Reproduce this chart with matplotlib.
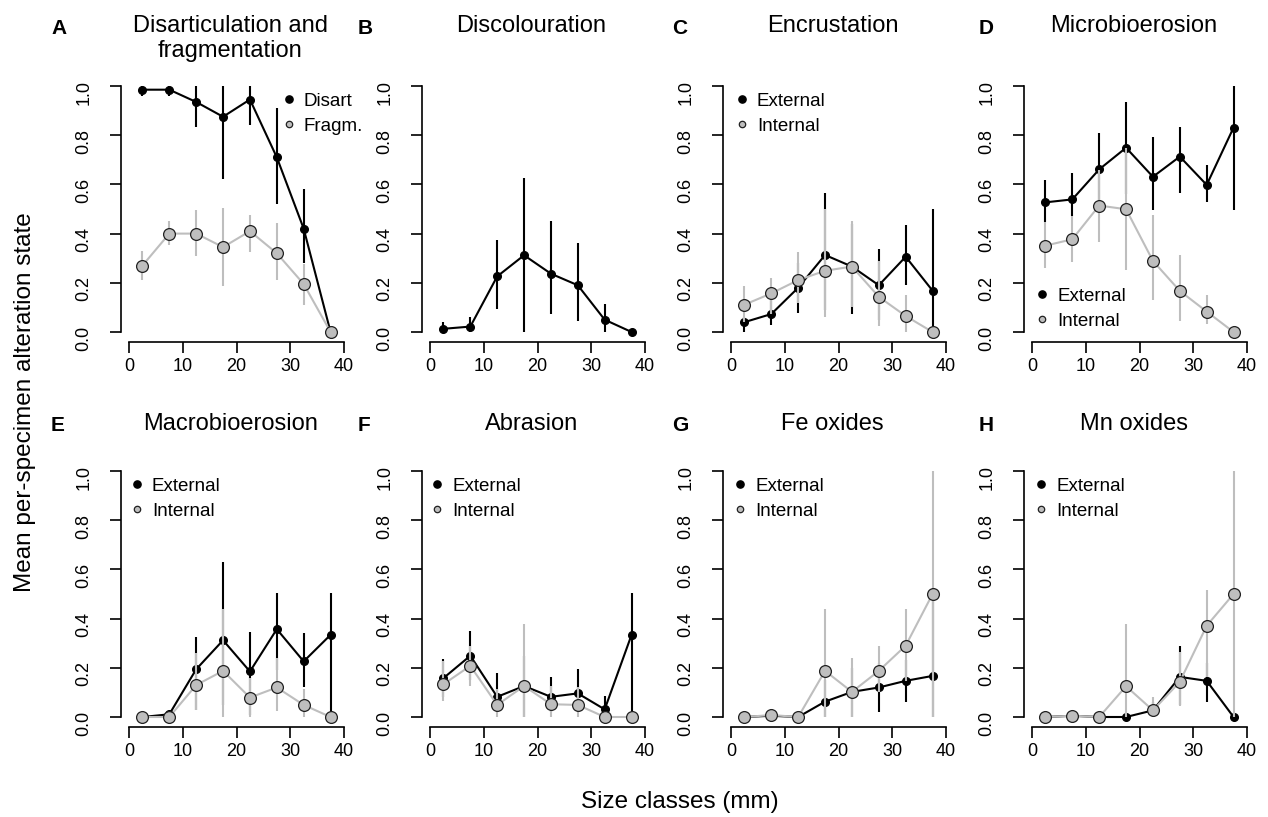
import matplotlib
matplotlib.use('Agg')
import matplotlib.pyplot as plt
from matplotlib.lines import Line2D

plt.rcParams['font.family'] = ['Liberation Sans', 'DejaVu Sans']

size_mid = [2.5, 7.5, 12.5, 17.5, 22.5, 27.5, 32.5, 37.5]
y_ticks = [0.0, 0.2, 0.4, 0.6, 0.8, 1.0]
x_ticks = [0, 10, 20, 30, 40]

# A: disarticulation (black) / fragmentation (grey)
a_ext = [0.985, 0.985, 0.935, 0.875, 0.945, 0.71, 0.42, 0.0]
a_ext_lo = [0.96, 0.96, 0.835, 0.62, 0.84, 0.52, 0.28, 0.0]
a_ext_hi = [1.0, 1.0, 1.0, 1.0, 1.0, 0.91, 0.58, 0.0]
a_int = [0.27, 0.40, 0.40, 0.345, 0.41, 0.32, 0.195, 0.0]
a_int_lo = [0.21, 0.355, 0.31, 0.185, 0.325, 0.21, 0.11, 0.0]
a_int_hi = [0.33, 0.45, 0.495, 0.505, 0.475, 0.445, 0.275, 0.0]

# B: discolouration
b_ext = [0.013, 0.022, 0.226, 0.312, 0.237, 0.19, 0.05, 0.0]
b_ext_lo = [0.0, 0.0, 0.095, 0.0, 0.075, 0.045, 0.0, 0.0]
b_ext_hi = [0.04, 0.06, 0.373, 0.627, 0.45, 0.36, 0.115, 0.0]

# C: encrustation
c_ext = [0.04, 0.073, 0.18, 0.313, 0.266, 0.19, 0.306, 0.168]
c_ext_lo = [0.0, 0.03, 0.076, 0.09, 0.075, 0.05, 0.19, 0.0]
c_ext_hi = [0.06, 0.13, 0.28, 0.566, 0.44, 0.336, 0.435, 0.5]
c_int = [0.111, 0.157, 0.211, 0.249, 0.266, 0.143, 0.065, 0.0]
c_int_lo = [0.04, 0.075, 0.117, 0.06, 0.10, 0.025, 0.0, 0.0]
c_int_hi = [0.187, 0.218, 0.327, 0.499, 0.453, 0.29, 0.15, 0.0]

# D: microbioerosion
d_ext = [0.527, 0.539, 0.661, 0.749, 0.631, 0.713, 0.598, 0.831]
d_ext_lo = [0.449, 0.472, 0.52, 0.56, 0.496, 0.566, 0.53, 0.496]
d_ext_hi = [0.618, 0.645, 0.808, 0.936, 0.791, 0.835, 0.679, 1.0]
d_int = [0.351, 0.377, 0.514, 0.499, 0.289, 0.167, 0.083, 0.0]
d_int_lo = [0.262, 0.283, 0.367, 0.252, 0.13, 0.046, 0.033, 0.0]
d_int_hi = [0.449, 0.47, 0.66, 0.75, 0.476, 0.313, 0.15, 0.0]

# E: macrobioerosion
e_ext = [0.0, 0.011, 0.194, 0.312, 0.185, 0.357, 0.226, 0.334]
e_ext_lo = [0.0, 0.0, 0.03, 0.05, 0.01, 0.19, 0.12, 0.0]
e_ext_hi = [0.0, 0.025, 0.326, 0.629, 0.345, 0.503, 0.34, 0.503]
e_int = [0.0, 0.0, 0.13, 0.1875, 0.079, 0.12, 0.049, 0.0]
e_int_lo = [0.0, 0.0, 0.03, 0.0, 0.0, 0.025, 0.0, 0.0]
e_int_hi = [0.0, 0.0, 0.262, 0.44, 0.16, 0.24, 0.115, 0.0]

# F: abrasion
f_ext = [0.158, 0.249, 0.082, 0.126, 0.082, 0.096, 0.031, 0.334]
f_ext_lo = [0.08, 0.15, 0.02, 0.0, 0.02, 0.02, 0.0, 0.0]
f_ext_hi = [0.235, 0.348, 0.18, 0.25, 0.163, 0.194, 0.085, 0.503]
f_int = [0.133, 0.208, 0.049, 0.126, 0.052, 0.049, 0.0, 0.0]
f_int_lo = [0.065, 0.126, 0.0, 0.0, 0.0, 0.0, 0.0, 0.0]
f_int_hi = [0.228, 0.29, 0.113, 0.378, 0.126, 0.12, 0.0, 0.0]

# G: Fe oxides
g_ext = [0.0, 0.005, 0.0, 0.0625, 0.102, 0.12, 0.147, 0.167]
g_ext_lo = [0.0, 0.0, 0.0, 0.0, 0.0, 0.022, 0.0625, 0.0]
g_ext_hi = [0.0, 0.0, 0.0, 0.15, 0.2, 0.22, 0.23, 0.5]
g_int = [0.0, 0.008, 0.0, 0.1875, 0.102, 0.1875, 0.29, 0.5]
g_int_lo = [0.0, 0.0, 0.0, 0.0, 0.0, 0.1, 0.147, 0.0]
g_int_hi = [0.0, 0.0, 0.0, 0.44, 0.24, 0.29, 0.44, 1.0]

# H: Mn oxides
h_ext = [0.0, 0.005, 0.0, 0.0, 0.027, 0.163, 0.147, 0.0]
h_ext_lo = [0.0, 0.0, 0.0, 0.0, 0.0, 0.05, 0.0625, 0.0]
h_ext_hi = [0.0, 0.0, 0.0, 0.0, 0.06, 0.29, 0.22, 0.0]
h_int = [0.0, 0.005, 0.0, 0.125, 0.027, 0.143, 0.371, 0.5]
h_int_lo = [0.0, 0.0, 0.0, 0.0, 0.0, 0.045, 0.163, 0.0]
h_int_hi = [0.0, 0.0, 0.0, 0.378, 0.082, 0.266, 0.516, 1.0]

titles = ['Disarticulation and\nfragmentation', 'Discolouration', 'Encrustation',
          'Microbioerosion', 'Macrobioerosion', 'Abrasion', 'Fe oxides', 'Mn oxides']
letters = ['A', 'B', 'C', 'D', 'E', 'F', 'G', 'H']

panels = [
    (a_ext, a_ext_lo, a_ext_hi, a_int, a_int_lo, a_int_hi),
    (b_ext, b_ext_lo, b_ext_hi, None, None, None),
    (c_ext, c_ext_lo, c_ext_hi, c_int, c_int_lo, c_int_hi),
    (d_ext, d_ext_lo, d_ext_hi, d_int, d_int_lo, d_int_hi),
    (e_ext, e_ext_lo, e_ext_hi, e_int, e_int_lo, e_int_hi),
    (f_ext, f_ext_lo, f_ext_hi, f_int, f_int_lo, f_int_hi),
    (g_ext, g_ext_lo, g_ext_hi, g_int, g_int_lo, g_int_hi),
    (h_ext, h_ext_lo, h_ext_hi, h_int, h_int_lo, h_int_hi),
]

# legend anchors (axes fraction, upper left); None = no legend
leg_pos = [(0.709, 0.973), None, (0.016, 0.973), (0.012, 0.18),
           (0.002, 0.973), (-0.002, 0.973), (0.007, 0.973), (0.007, 0.973)]

GREY = '#bebebe'
W, H = 1268, 817
fig = plt.figure(figsize=(W / 100, H / 100), dpi=100)

lefts = [129, 430, 731, 1032]
tops = [86, 471]
letter_x = [51, 358, 672, 979]
letter_y = [28, 426]
title_top = [15, 413]

for i in range(8):
    r, c = divmod(i, 4)
    l, t = lefts[c], tops[r]
    w, h = 215, 246
    ax = fig.add_axes([l / W, 1 - (t + h) / H, w / W, h / H])
    ax.set_xlim(0, 40)
    ax.set_ylim(0, 1)
    for s in ['top', 'right']:
        ax.spines[s].set_visible(False)
    ax.spines['left'].set_position(('outward', 5.8))
    ax.spines['bottom'].set_position(('outward', 7.4))
    for s in ['left', 'bottom']:
        ax.spines[s].set_linewidth(1.2)
    ax.set_xticks(x_ticks)
    ax.set_yticks(y_ticks)
    ax.set_yticklabels(['%.1f' % v for v in y_ticks])
    ax.tick_params(axis='both', labelsize=13, width=1.2, length=8)
    ax.tick_params(axis='y', labelrotation=90, pad=12.5)
    ax.tick_params(axis='x', pad=3.5)

    ext, ext_lo, ext_hi, inn, inn_lo, inn_hi = panels[i]
    ax.vlines(size_mid, ext_lo, ext_hi, colors='black', lw=1.5, zorder=2,
              clip_on=False, capstyle='butt')
    ax.plot(size_mid, ext, color='black', lw=1.5, marker='o', ms=5.5,
            mfc='black', mec='black', zorder=2.1, clip_on=False)
    if inn is not None:
        ax.vlines(size_mid, inn_lo, inn_hi, colors=GREY, lw=1.5, zorder=3,
                  clip_on=False, capstyle='butt')
        ax.plot(size_mid, inn, color=GREY, lw=1.5, marker='o', ms=8.5,
                mfc=GREY, mec='#202020', mew=0.9, zorder=3.1, clip_on=False)

    if leg_pos[i] is not None:
        labs = ['Disart', 'Fragm.'] if i == 0 else ['External', 'Internal']
        handles = [
            Line2D([], [], ls='none', marker='o', ms=5.2, mfc='black', mec='black'),
            Line2D([], [], ls='none', marker='o', ms=4.6, mfc=GREY, mec='#202020', mew=0.9),
        ]
        ax.legend(handles, labs, loc='upper left', bbox_to_anchor=leg_pos[i],
                  frameon=False, fontsize=13.5, borderpad=0, borderaxespad=0,
                  handlelength=0.8, handletextpad=0.4, labelspacing=0.42)

    cx = (l + w / 2 - 6) / W
    fig.text(cx, 1 - title_top[r] / H, titles[i], ha='center', va='top',
             fontsize=17, linespacing=1.15)
    fig.text(letter_x[c] / W, 1 - letter_y[r] / H, letters[i], ha='left',
             va='center', fontsize=15, fontweight='bold')

fig.text(25 / W, 1 - 402 / H, 'Mean per-specimen alteration state', rotation=90,
         ha='center', va='center', fontsize=17.5)
fig.text(680 / W, 1 - 802 / H, 'Size classes (mm)', ha='center', va='center',
         fontsize=17.5)

fig.savefig('out.png', dpi=100)
